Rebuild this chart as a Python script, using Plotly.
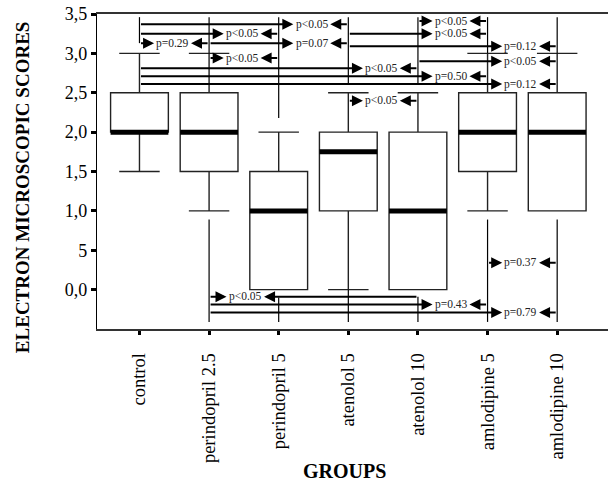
import plotly.graph_objects as go

# ---------------- data ----------------
groups = ["control", "perindopril 2.5", "perindopril 5", "atenolol 5",
          "atenolol 10", "amlodipine 5", "amlodipine 10"]
q1 = [2.0, 1.5, 0.0, 1.0, 0.0, 1.5, 1.0]
median = [2.0, 2.0, 1.0, 1.75, 1.0, 2.0, 2.0]
q3 = [2.5, 2.5, 1.5, 2.0, 2.0, 2.5, 2.5]
lower_whisker = [1.5, 1.0, 0.0, 0.0, 0.0, 1.0, 1.0]
upper_whisker = [3.0, 3.0, 2.0, 2.5, 2.5, 3.0, 3.0]

y_ticks = [3.5, 3.0, 2.5, 2.0, 1.5, 1.0, 0.5, 0.0]
y_tick_labels = ["3,5", "3,0", "2,5", "2,0", "1,5", "1,0", "5", "0,0"]

# pairwise comparisons (group a index, group b index, level, p label, label side)
cmp_a = [0, 4, 0, 3, 0, 1, 3, 1, 4, 0, 0, 0, 3, 5, 1, 1, 1]
cmp_b = [3, 5, 2, 5, 1, 3, 6, 2, 6, 4, 5, 6, 4, 6, 4, 5, 6]
cmp_level = [3.37, 3.41, 3.25, 3.25, 3.13, 3.13, 3.09, 2.94, 2.90, 2.81,
             2.71, 2.61, 2.40, 0.34, -0.09, -0.19, -0.29]
cmp_label = ["p<0.05", "p<0.05", "p<0.05", "p<0.05", "p=0.29", "p=0.07",
             "p=0.12", "p<0.05", "p<0.05", "p<0.05", "p=0.50", "p=0.12",
             "p<0.05", "p=0.37", "p<0.05", "p=0.43", "p=0.79"]
cmp_side = ["b"] * 14 + ["a", "b", "b"]

# vertical connector lines from the groups (group index, from level, to level)
conn_group = [0, 1, 2, 3, 4, 5, 6, 1, 2, 3, 4, 5, 6]
conn_from = [3.46, 3.46, 3.46, 3.46, 3.46, 3.46, 3.46, 0.89, -0.10, 0.0, -0.09, 0.89, 0.89]
conn_to = [3.13, 3.0, 2.18, 2.61, 2.61, 3.0, 3.0, -0.41, -0.41, -0.41, -0.41, -0.41, -0.41]

# ---------------- figure ----------------
FONT = "Liberation Serif, Times New Roman, serif"
xpos = list(range(len(groups)))
BOXW = 0.83

fig = go.Figure()
fig.add_trace(go.Box(
    x=xpos, q1=q1, median=median, q3=q3,
    lowerfence=lower_whisker, upperfence=upper_whisker,
    width=BOXW, whiskerwidth=0.7, fillcolor="white",
    line=dict(color="#222", width=1.4), boxpoints=False,
    showlegend=False, hoverinfo="skip"))

# thick median bars
mx, my = [], []
for i, m in zip(xpos, median):
    mx += [i - BOXW / 2, i + BOXW / 2, None]
    my += [m, m, None]
fig.add_trace(go.Scatter(x=mx, y=my, mode="lines",
                         line=dict(color="black", width=5),
                         showlegend=False, hoverinfo="skip"))

# connectors
cx, cy = [], []
for g, f, t in zip(conn_group, conn_from, conn_to):
    cx += [g, g, None]
    cy += [f, t, None]
fig.add_trace(go.Scatter(x=cx, y=cy, mode="lines",
                         line=dict(color="black", width=1.2),
                         showlegend=False, hoverinfo="skip"))

# comparison arrows
annotations = []
for a, b, lv, lab, side in zip(cmp_a, cmp_b, cmp_level, cmp_label, cmp_side):
    if side == "b":
        tip_r, mid, tip_l = b - 0.79, b - 0.52, b - 0.26
    else:
        tip_r, mid, tip_l = a + 0.25, a + 0.52, a + 0.79
    common = dict(xref="x", yref="y", axref="x", ayref="y", text="",
                  showarrow=True, arrowhead=2, arrowsize=1.1, arrowwidth=2,
                  arrowcolor="black", standoff=0, startstandoff=0)
    annotations.append(dict(x=tip_r, y=lv, ax=a, ay=lv, **common))
    annotations.append(dict(x=tip_l, y=lv, ax=b, ay=lv, **common))
    annotations.append(dict(x=mid, y=lv, xref="x", yref="y", showarrow=False,
                            text=lab.replace("<", "&lt;"),
                            font=dict(family=FONT, size=11.5, color="#222"),
                            xanchor="center", yanchor="middle"))

annotations.append(dict(text="<b>ELECTRON MICROSCOPIC SCORES</b>", xref="paper", yref="paper",
                        x=-0.147, y=0.45, textangle=-90, showarrow=False,
                        xanchor="center", yanchor="middle",
                        font=dict(family=FONT, size=19, color="black")))
annotations.append(dict(text="<b>GROUPS</b>", xref="paper", yref="paper",
                        x=0.485, y=-0.452, showarrow=False,
                        xanchor="center", yanchor="middle",
                        font=dict(family=FONT, size=20, color="black")))

fig.update_layout(
    width=608, height=487,
    margin=dict(l=97, r=0, t=14, b=158),
    plot_bgcolor="white", paper_bgcolor="white",
    showlegend=False,
    annotations=annotations,
    font=dict(family=FONT, color="black"),
)
fig.update_xaxes(
    range=[-0.61, 6.73], tickvals=xpos, ticktext=groups, tickangle=-90,
    tickfont=dict(family=FONT, size=18.5, color="black"),
    ticks="outside", ticklen=4, tickwidth=3, tickcolor="black",
    showline=True, linecolor="#333", linewidth=1.5, mirror=True,
    showgrid=False, zeroline=False, ticklabelstandoff=11)
fig.update_yaxes(
    range=[-0.5, 3.5], tickvals=y_ticks, ticktext=y_tick_labels,
    tickfont=dict(family=FONT, size=18, color="black"),
    ticks="outside", ticklen=5, tickwidth=3, tickcolor="black",
    showline=True, linecolor="black", linewidth=1.2,
    showgrid=False, zeroline=False, ticklabeloverflow="allow")

# remove the default page margin so the figure sits at the window's top-left corner
fig.write_html("out.html", config={"displayModeBar": False},
               post_script="document.body.style.margin='0';")
